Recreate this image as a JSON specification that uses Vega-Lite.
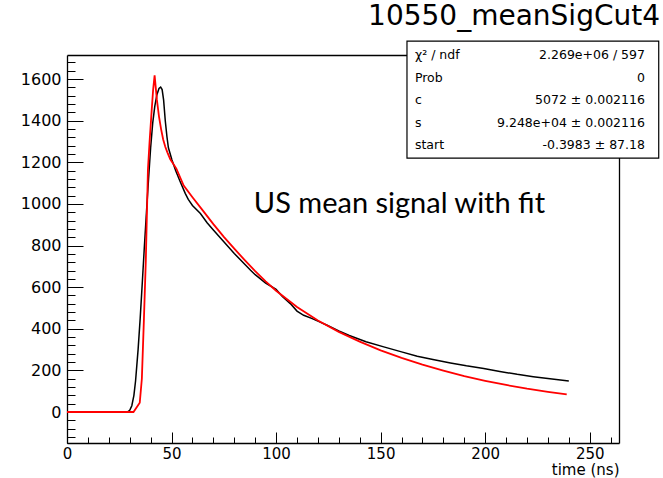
{
  "$schema": "https://vega.github.io/schema/vega-lite/v6.json",
  "width": 552,
  "height": 388,
  "autosize": {"type": "none"},
  "padding": {"left": 67, "top": 55, "right": 44, "bottom": 35},
  "background": "white",
  "view": {"stroke": null},
  "config": {"font": "DejaVu Sans"},
  "title": {"text": "10550_meanSigCut4", "anchor": "end", "frame": "group", "dx": 41, "fontSize": 28, "fontWeight": "normal", "font": "DejaVu Sans", "baseline": "alphabetic", "offset": -13, "color": "black"},
  "datasets": {
    "signal": [
      {"t": 0, "v": 0}, {"t": 28.8, "v": 0}, {"t": 30, "v": 8}, {"t": 31, "v": 30}, {"t": 32, "v": 80}, {"t": 32.8, "v": 150},
      {"t": 34, "v": 300}, {"t": 35, "v": 450}, {"t": 36, "v": 620}, {"t": 37, "v": 794}, {"t": 38, "v": 960}, {"t": 39, "v": 1120},
      {"t": 40, "v": 1270}, {"t": 41, "v": 1390}, {"t": 42, "v": 1470}, {"t": 43, "v": 1525}, {"t": 44, "v": 1555}, {"t": 44.8, "v": 1562},
      {"t": 45.5, "v": 1550}, {"t": 46.2, "v": 1500}, {"t": 47, "v": 1400}, {"t": 47.8, "v": 1323}, {"t": 48.5, "v": 1270}, {"t": 50.2, "v": 1211},
      {"t": 52, "v": 1160}, {"t": 54, "v": 1110}, {"t": 56.6, "v": 1050}, {"t": 58, "v": 1022}, {"t": 60, "v": 993}, {"t": 63.8, "v": 954},
      {"t": 67, "v": 910}, {"t": 70.1, "v": 874}, {"t": 75, "v": 818}, {"t": 80, "v": 762}, {"t": 85, "v": 710}, {"t": 87.8, "v": 681},
      {"t": 90, "v": 660}, {"t": 95, "v": 620}, {"t": 100, "v": 590}, {"t": 103, "v": 555}, {"t": 106.8, "v": 521}, {"t": 110, "v": 485},
      {"t": 113.2, "v": 465}, {"t": 117, "v": 450}, {"t": 120, "v": 437}, {"t": 124.4, "v": 417}, {"t": 130, "v": 390}, {"t": 135, "v": 368}, {"t": 143, "v": 338},
      {"t": 151.5, "v": 313}, {"t": 160, "v": 289}, {"t": 167.5, "v": 268}, {"t": 175, "v": 252}, {"t": 183.4, "v": 236}, {"t": 191, "v": 222},
      {"t": 199.3, "v": 209}, {"t": 207, "v": 195}, {"t": 215.3, "v": 181}, {"t": 223, "v": 170}, {"t": 231, "v": 160}, {"t": 240, "v": 149}
    ],
    "fit": [
      {"t": 0, "v": 0}, {"t": 31.8, "v": 0}, {"t": 34.8, "v": 45}, {"t": 35.8, "v": 160}, {"t": 36.8, "v": 450}, {"t": 37.7, "v": 730},
      {"t": 38.7, "v": 1163}, {"t": 39.5, "v": 1300}, {"t": 40.5, "v": 1450}, {"t": 41.2, "v": 1550}, {"t": 41.9, "v": 1618}, {"t": 43, "v": 1500},
      {"t": 44, "v": 1420}, {"t": 45, "v": 1360}, {"t": 46, "v": 1310}, {"t": 47, "v": 1275}, {"t": 48, "v": 1248}, {"t": 49.4, "v": 1215},
      {"t": 52.3, "v": 1170}, {"t": 55.8, "v": 1088}, {"t": 60, "v": 1032}, {"t": 65, "v": 968}, {"t": 70, "v": 903}, {"t": 75, "v": 842},
      {"t": 80, "v": 785}, {"t": 85, "v": 730}, {"t": 90, "v": 677}, {"t": 95, "v": 628}, {"t": 100, "v": 583}, {"t": 110, "v": 505},
      {"t": 120, "v": 440}, {"t": 130, "v": 385}, {"t": 140, "v": 338}, {"t": 150, "v": 296}, {"t": 160, "v": 260}, {"t": 170, "v": 228},
      {"t": 180, "v": 199}, {"t": 190, "v": 172}, {"t": 200, "v": 150}, {"t": 210, "v": 130}, {"t": 220, "v": 112}, {"t": 230, "v": 97},
      {"t": 239, "v": 85}
    ],
    "stats": [
      {"i": 1, "k": "χ² / ndf", "val": "2.269e+06 / 597"},
      {"i": 2, "k": "Prob", "val": "0"},
      {"i": 3, "k": "c", "val": "5072 ± 0.002116"},
      {"i": 4, "k": "s", "val": "9.248e+04 ± 0.002116"},
      {"i": 5, "k": "start", "val": "-0.3983 ± 87.18"}
    ]
  },
  "layer": [
    {
      "layer": [
        {
          "data": {"name": "signal"},
          "mark": {"type": "line", "color": "black", "strokeWidth": 1.5},
          "encoding": {
            "x": {"field": "t", "type": "quantitative", "scale": {"domain": [0, 264], "nice": false, "zero": false},
              "axis": {"orient": "bottom", "values": [0, 50, 100, 150, 200, 250], "format": "d", "ticks": false, "tickSize": 0, "grid": false, "domain": true, "domainColor": "black", "domainWidth": 1.3,
                "labelFont": "DejaVu Sans", "labelFontSize": 15, "labelColor": "black", "labelPadding": 3, "labelFlush": false, "labelOverlap": false,
                "title": "time (ns)", "titleFont": "DejaVu Sans", "titleFontSize": 15, "titleFontWeight": "normal", "titleColor": "black", "titleAnchor": "end", "titlePadding": 1}},
            "y": {"field": "v", "type": "quantitative", "scale": {"domain": [-149, 1716], "nice": false, "zero": false},
              "axis": {"orient": "left", "values": [0, 200, 400, 600, 800, 1000, 1200, 1400, 1600], "format": "d", "ticks": false, "tickSize": 0, "grid": false, "domain": true, "domainColor": "black", "domainWidth": 1.3,
                "labelFont": "DejaVu Sans", "labelFontSize": 16, "labelColor": "black", "labelPadding": 6, "labelFlush": false, "labelOverlap": false, "title": null}}
          }
        },
        {
          "data": {"name": "fit"},
          "mark": {"type": "line", "color": "#ff0000", "strokeWidth": 1.8},
          "encoding": {
            "x": {"field": "t", "type": "quantitative", "scale": {"domain": [0, 264], "nice": false, "zero": false},
              "axis": {"orient": "bottom", "values": [0, 50, 100, 150, 200, 250], "labels": false, "domain": false, "ticks": true, "tickSize": -11, "tickColor": "black", "tickWidth": 1, "grid": false, "title": null}},
            "y": {"field": "v", "type": "quantitative", "scale": {"domain": [-149, 1716], "nice": false, "zero": false},
              "axis": {"orient": "left", "values": [0, 200, 400, 600, 800, 1000, 1200, 1400, 1600], "labels": false, "domain": false, "ticks": true, "tickSize": -16, "tickColor": "black", "tickWidth": 1, "grid": false, "title": null}}
          }
        },
        {
          "data": {"values": [{}]},
          "mark": {"type": "text", "text": "US mean signal with fit", "font": "Lato", "fontSize": 29, "align": "center", "baseline": "alphabetic", "color": "black"},
          "encoding": {
            "x": {"datum": 159, "type": "quantitative", "scale": {"domain": [0, 264], "nice": false, "zero": false},
              "axis": {"orient": "bottom", "values": [0, 10, 20, 30, 40, 50, 60, 70, 80, 90, 100, 110, 120, 130, 140, 150, 160, 170, 180, 190, 200, 210, 220, 230, 240, 250, 260], "labels": false, "domain": false, "ticks": true, "tickSize": -6, "tickColor": "black", "tickWidth": 1, "grid": false, "title": null}},
            "y": {"datum": 956, "type": "quantitative", "scale": {"domain": [-149, 1716], "nice": false, "zero": false},
              "axis": {"orient": "left", "values": [-120, -80, -40, 0, 40, 80, 120, 160, 200, 240, 280, 320, 360, 400, 440, 480, 520, 560, 600, 640, 680, 720, 760, 800, 840, 880, 920, 960, 1000, 1040, 1080, 1120, 1160, 1200, 1240, 1280, 1320, 1360, 1400, 1440, 1480, 1520, 1560, 1600, 1640, 1680], "labels": false, "domain": false, "ticks": true, "tickSize": -8, "tickColor": "black", "tickWidth": 1, "grid": false, "title": null}}
          }
        }
      ],
      "resolve": {"axis": {"x": "independent", "y": "independent"}}
    },
    {
      "layer": [
        {
          "data": {"values": [{}]},
          "mark": {"type": "rect", "fill": "white", "stroke": "black", "strokeWidth": 1.2},
          "encoding": {
            "x": {"datum": 162.6, "type": "quantitative", "scale": {"domain": [0, 264], "nice": false, "zero": false},
              "axis": {"orient": "top", "labels": false, "ticks": false, "grid": false, "domain": true, "domainColor": "black", "domainWidth": 1.3, "title": null}},
            "x2": {"datum": 283},
            "y": {"datum": 0.38, "type": "quantitative", "scale": {"domain": [1, 18.24], "reverse": true, "nice": false, "zero": false},
              "axis": {"orient": "right", "labels": false, "ticks": false, "grid": false, "domain": true, "domainColor": "black", "domainWidth": 1.3, "title": null}},
            "y2": {"datum": 5.58}
          }
        },
        {
          "data": {"name": "stats"},
          "mark": {"type": "text", "align": "left", "baseline": "middle", "font": "DejaVu Sans", "fontSize": 12.5, "color": "black"},
          "encoding": {
            "x": {"datum": 166.4, "type": "quantitative", "scale": {"domain": [0, 264], "nice": false, "zero": false},
              "axis": {"orient": "top", "labels": false, "ticks": false, "grid": false, "domain": true, "domainColor": "black", "domainWidth": 1.3, "title": null}},
            "y": {"field": "i", "type": "quantitative", "scale": {"domain": [1, 18.24], "reverse": true, "nice": false, "zero": false},
              "axis": {"orient": "right", "labels": false, "ticks": false, "grid": false, "domain": true, "domainColor": "black", "domainWidth": 1.3, "title": null}},
            "text": {"field": "k"}
          }
        },
        {
          "data": {"name": "stats"},
          "mark": {"type": "text", "align": "right", "baseline": "middle", "font": "DejaVu Sans", "fontSize": 12.5, "color": "black"},
          "encoding": {
            "x": {"datum": 276.4, "type": "quantitative", "scale": {"domain": [0, 264], "nice": false, "zero": false},
              "axis": {"orient": "top", "labels": false, "ticks": false, "grid": false, "domain": true, "domainColor": "black", "domainWidth": 1.3, "title": null}},
            "y": {"field": "i", "type": "quantitative", "scale": {"domain": [1, 18.24], "reverse": true, "nice": false, "zero": false},
              "axis": {"orient": "right", "labels": false, "ticks": false, "grid": false, "domain": true, "domainColor": "black", "domainWidth": 1.3, "title": null}},
            "text": {"field": "val"}
          }
        }
      ]
    }
  ],
  "resolve": {"scale": {"y": "independent"}, "axis": {"x": "independent", "y": "independent"}}
}
